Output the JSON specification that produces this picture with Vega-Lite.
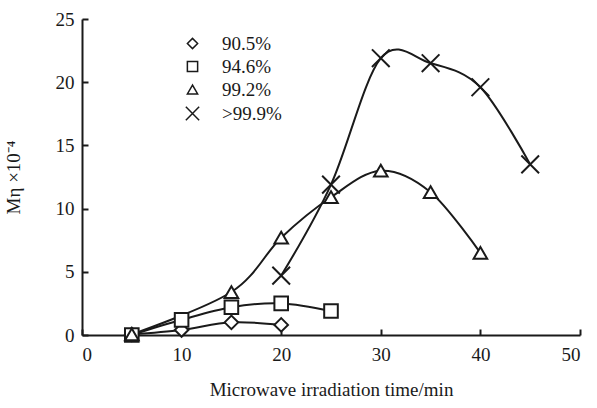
{
  "$schema": "https://vega.github.io/schema/vega-lite/v6.json",
  "autosize": "none",
  "width": 498,
  "height": 316,
  "padding": {"left": 82, "top": 19, "right": 17, "bottom": 73},
  "background": "white",
  "config": {
    "view": {"stroke": null},
    "font": "Liberation Serif",
    "axis": {"grid": false, "domainColor": "#1a1a1a", "domainWidth": 2, "tickColor": "#1a1a1a", "tickWidth": 2, "labelFont": "Liberation Serif", "titleFont": "Liberation Serif", "labelFontSize": 19, "titleFontSize": 19, "labelColor": "#1a1a1a", "titleColor": "#1a1a1a", "titleFontWeight": "normal"},
    "legend": {"labelFont": "Liberation Serif", "labelFontSize": 19, "labelColor": "#1a1a1a"}
  },
  "data": {"values": [
    {"series": "90.5%", "t": 5, "m": 0.05},
    {"series": "90.5%", "t": 10, "m": 0.4},
    {"series": "90.5%", "t": 15, "m": 1.0},
    {"series": "90.5%", "t": 20, "m": 0.8},
    {"series": "94.6%", "t": 5, "m": 0.0},
    {"series": "94.6%", "t": 10, "m": 1.2},
    {"series": "94.6%", "t": 15, "m": 2.2},
    {"series": "94.6%", "t": 20, "m": 2.5},
    {"series": "94.6%", "t": 25, "m": 1.9},
    {"series": "99.2%", "t": 5, "m": 0.05},
    {"series": "99.2%", "t": 15, "m": 3.4},
    {"series": "99.2%", "t": 20, "m": 7.7},
    {"series": "99.2%", "t": 25, "m": 10.9},
    {"series": "99.2%", "t": 30, "m": 13.0},
    {"series": "99.2%", "t": 35, "m": 11.3},
    {"series": "99.2%", "t": 40, "m": 6.5},
    {"series": ">99.9%", "t": 20, "m": 4.7},
    {"series": ">99.9%", "t": 25, "m": 11.9},
    {"series": ">99.9%", "t": 30, "m": 21.9},
    {"series": ">99.9%", "t": 35, "m": 21.5},
    {"series": ">99.9%", "t": 40, "m": 19.6},
    {"series": ">99.9%", "t": 45, "m": 13.5}
  ]},
  "encoding": {
    "x": {"field": "t", "type": "quantitative", "scale": {"domain": [0, 50], "nice": false},
      "axis": {"values": [0, 10, 20, 30, 40, 50], "tickSize": -6, "labelPadding": 16, "title": "Microwave irradiation time/min", "titlePadding": 16}},
    "y": {"field": "m", "type": "quantitative", "scale": {"domain": [0, 25], "nice": false},
      "axis": {"values": [0, 5, 10, 15, 20, 25], "tickSize": -6, "labelPadding": 14, "title": "Mη ×10⁻⁴", "titlePadding": 32}}
  },
  "layer": [
    {
      "mark": {"type": "line", "interpolate": "cardinal", "color": "#1a1a1a", "strokeWidth": 2},
      "encoding": {"detail": {"field": "series"}}
    },
    {
      "mark": {"type": "point", "filled": false, "strokeWidth": 2, "size": 185, "opacity": 1, "color": "#1a1a1a", "stroke": "#1a1a1a", "fill": "white", "fillOpacity": 1},
      "encoding": {
        "shape": {"field": "series", "type": "nominal",
          "scale": {"domain": ["90.5%", "94.6%", "99.2%", ">99.9%"], "range": ["diamond", "square", "triangle-up", "M-1.3,-1.3L1.3,1.3M-1.3,1.3L1.3,-1.3"]},
          "legend": {"title": null, "orient": "none", "legendX": 101, "legendY": 15, "symbolSize": 105, "rowPadding": 3, "labelOffset": 20,
            "encode": {"symbols": {"update": {"stroke": {"value": "#1a1a1a"}, "strokeWidth": {"value": 1.5}, "fill": {"value": "white"}, "opacity": {"value": 1}, "strokeOpacity": {"value": 1}}}}}}
      }
    }
  ]
}
